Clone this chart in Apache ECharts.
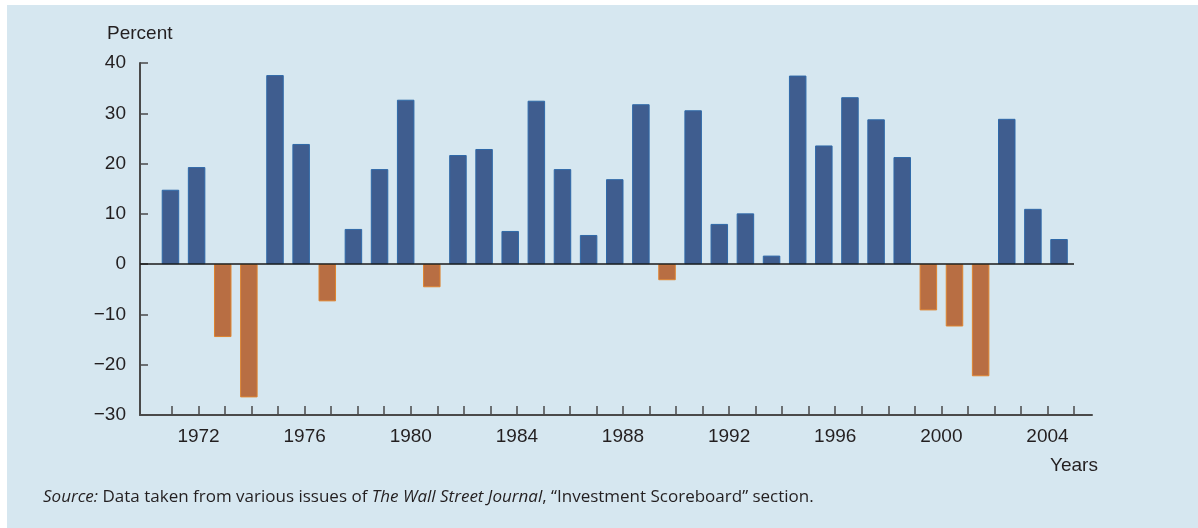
<!DOCTYPE html>
<html>
<head>
<meta charset="utf-8">
<script src="https://cdn.jsdelivr.net/npm/echarts@6/dist/echarts.min.js"></script>
<style>
    html, body { margin: 0; padding: 0; background: #ffffff; }
    .bg { position: absolute; left: 7px; top: 5px; width: 1191px; height: 523px; background: #d6e7f0; }
    .chart { position: absolute; left: 0; top: 0; width: 1198px; height: 528px; }
</style>
</head>
<body>
<div class="bg"></div>
<div class="chart"></div>
<script>
// years and yearly returns (percent)
var years = ['1971', '1972', '1973', '1974', '1975', '1976', '1977', '1978', '1979', '1980',
    '1981', '1982', '1983', '1984', '1985', '1986', '1987', '1988', '1989', '1990',
    '1991', '1992', '1993', '1994', '1995', '1996', '1997', '1998', '1999', '2000',
    '2001', '2002', '2003', '2004', '2005'];
var returns = [14.8, 19.3, -14.5, -26.5, 37.6, 23.9, -7.4, 7.0, 18.9, 32.7,
    -4.6, 21.7, 22.9, 6.6, 32.5, 18.9, 5.8, 16.9, 31.8, -3.2,
    30.6, 8.0, 10.1, 1.7, 37.5, 23.6, 33.2, 28.8, 21.3, -9.2,
    -12.4, -22.3, 28.9, 11.0, 5.0];

// tick positions and labels on the year axis
var tickYears = [];
for (var y = 1971; y <= 2005; y++) tickYears.push(y);
var labelYears = [1972, 1976, 1980, 1984, 1988, 1992, 1996, 2000, 2004];

var blue = '#3f5d8f', blueEdge = '#2f69a8';
var orange = '#b86e43', orangeEdge = '#de8430';
var ink = '#231f20';
var fontNum = "'Liberation Sans', Arial, sans-serif";
var fontNote = "'Open Sans', sans-serif";

var chart = echarts.init(document.querySelector('.chart'));

var option = {
    animation: false,
    title: [
        { text: 'Percent', left: 102, top: 19,
          textStyle: { fontFamily: fontNum, fontSize: 19, fontWeight: 'normal', color: ink } },
        { text: 'Years', left: 1045, top: 451,
          textStyle: { fontFamily: fontNum, fontSize: 19, fontWeight: 'normal', color: ink } },
        { text: '{i|Source:} Data taken from various issues of {i|The Wall Street Journal}, \u201cInvestment Scoreboard\u201d section.',
          left: 38, top: 484,
          textStyle: {
              fontFamily: fontNote, fontSize: 17, fontWeight: 'normal', color: ink,
              rich: { i: { fontFamily: fontNote, fontSize: 17, fontStyle: 'italic', color: ink } }
          } }
    ],
    grid: [
        // grid 0: axes with ticks and labels
        { left: 140, right: 106, top: 63, bottom: 113 },
        // grid 1: bars
        { left: 157.4, right: 125.9, top: 63, bottom: 113 }
    ],
    xAxis: [
        {
            gridIndex: 0, type: 'value',
            min: 1969.794, max: 2005.678,
            splitLine: { show: false },
            axisLine: { onZero: false, lineStyle: { color: '#4a4a4a', width: 2 } },
            axisTick: { inside: true, length: 9, customValues: tickYears,
                        lineStyle: { color: '#4a4a4a', width: 1.5 } },
            axisLabel: { customValues: labelYears, margin: 12, fontFamily: fontNum, fontSize: 19, color: ink,
                         formatter: function (v) { return String(v); } }
        },
        {
            gridIndex: 1, type: 'category', data: years,
            show: false
        }
    ],
    yAxis: [
        {
            gridIndex: 0, type: 'value', min: -30, max: 40, interval: 10,
            splitLine: { show: false },
            axisLine: { show: true, lineStyle: { color: '#4a4a4a', width: 2 } },
            axisTick: { show: true, inside: true, length: 8, lineStyle: { color: '#4a4a4a', width: 1.5 } },
            axisLabel: { margin: 14, fontFamily: fontNum, fontSize: 19, color: ink,
                         formatter: function (v) { return v < 0 ? '\u2212' + Math.abs(v) : String(v); } }
        },
        {
            gridIndex: 1, type: 'value', min: -30, max: 40, interval: 10, show: false
        }
    ],
    series: [
        {
            type: 'bar', xAxisIndex: 1, yAxisIndex: 1,
            barWidth: 17.5,
            data: returns.map(function (v) {
                return {
                    value: v,
                    itemStyle: v < 0 ? { color: orange, borderColor: orangeEdge, borderWidth: 1 }
                                     : { color: blue, borderColor: blueEdge, borderWidth: 1 }
                };
            })
        },
        {
            // zero line
            type: 'line', xAxisIndex: 0, yAxisIndex: 0, data: [],
            markLine: {
                silent: true, symbol: 'none', label: { show: false },
                lineStyle: { color: '#1a1a1a', width: 1.5, type: 'solid' },
                data: [[{ coord: [1969.794, 0] }, { coord: [2005, 0] }]]
            }
        }
    ]
};

chart.setOption(option);
</script>
</body>
</html>
